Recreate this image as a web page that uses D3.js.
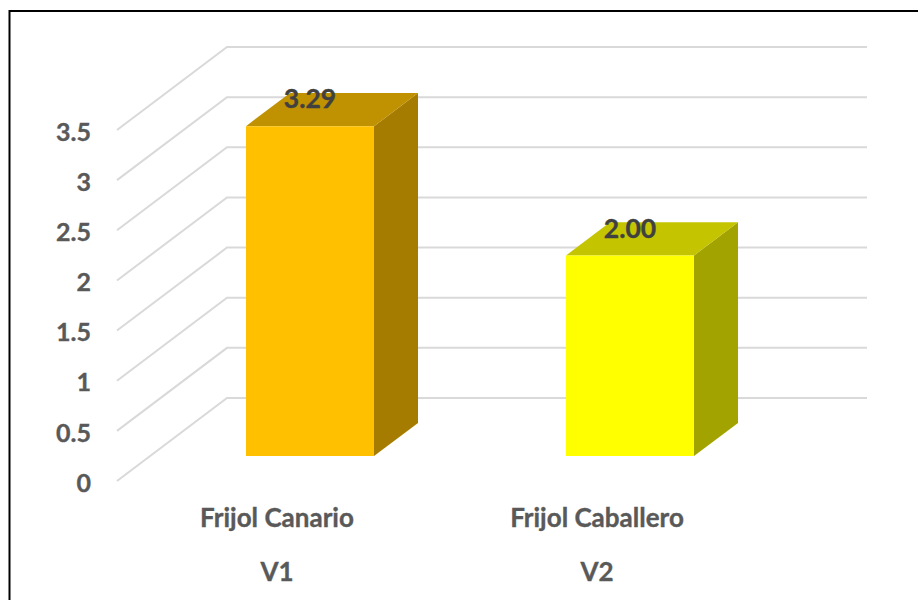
<!DOCTYPE html>
<html>
<head>
<meta charset="utf-8">
<script src="https://cdn.jsdelivr.net/npm/d3@7"></script>
<style>
  html, body { margin: 0; padding: 0; background: #fff; }
  svg { display: block; }
  text { font-family: Lato, "Open Sans", sans-serif; font-weight: 700; stroke-width: 0.35px; }
</style>
</head>
<body>
<script>
// Bean yield by variety, drawn as a pseudo-3D column chart
const categories = ["Frijol Canario", "Frijol Caballero"];
const groups = ["V1", "V2"];
const values = [3.29, 2.00];
const valueLabels = ["3.29", "2.00"];
const yTicks = [0, 0.5, 1, 1.5, 2, 2.5, 3, 3.5];
const yTickLabels = ["0", "0.5", "1", "1.5", "2", "2.5", "3", "3.5"];
const frontColors = ["#ffc000", "#ffff00"];
const topColors = ["#c09100", "#c4c400"];
const sideColors = ["#a67c00", "#a3a300"];

const width = 918, height = 600;
const svg = d3.select("body").append("svg").attr("width", width).attr("height", height);

// Chart frame: only the left and top edges fall inside the page
svg.append("path")
  .attr("d", "M9.5,600V11H918")
  .attr("fill", "none").attr("stroke", "#000").attr("stroke-width", 2);

// Front plane scales
const y = d3.scaleLinear().domain([0, 3.5]).range([481, 130]);
const x = d3.scaleBand().domain(categories).range([117, 757])
  .paddingInner(0.6).paddingOuter(0.3);

// Oblique depth: t = 0 at the front plane, t = 1 at the back wall
const depthX = 110, depthY = -83;
const project = (px, py, t) => [px + depthX * t, py + depthY * t];
const barFront = 0.3, barBack = 0.7;
const line = d3.line();

// Gridlines: a diagonal on the side wall, then a horizontal on the back wall
svg.append("g").selectAll("path").data(yTicks).join("path")
  .attr("d", d => line([
    project(x.range()[0], y(d), 0),
    project(x.range()[0], y(d), 1),
    project(x.range()[1], y(d), 1)
  ]))
  .attr("fill", "none").attr("stroke", "#d9d9d9").attr("stroke-width", 2);

// Value axis labels
svg.append("g").selectAll("text").data(yTicks).join("text")
  .attr("x", 91).attr("y", d => y(d) + 2)
  .attr("text-anchor", "end").attr("dy", "0.35em")
  .attr("font-size", 25).attr("fill", "#595959").attr("stroke", "#595959")
  .text((d, i) => yTickLabels[i]);

// Columns: side and top faces behind the front face
const bars = svg.append("g").selectAll("g").data(categories).join("g");

const face = (cat, i, build) => {
  const x0 = x(cat), x1 = x0 + x.bandwidth();
  const top = y(values[i]), base = y(0);
  return line(build(x0, x1, top, base)) + "Z";
};

bars.append("path")
  .attr("fill", (d, i) => sideColors[i])
  .attr("d", (d, i) => face(d, i, (x0, x1, top, base) => [
    project(x1, top, barFront), project(x1, top, barBack),
    project(x1, base, barBack), project(x1, base, barFront)
  ]));

bars.append("path")
  .attr("fill", (d, i) => topColors[i])
  .attr("d", (d, i) => face(d, i, (x0, x1, top) => [
    project(x0, top, barFront), project(x0, top, barBack),
    project(x1, top, barBack), project(x1, top, barFront)
  ]));

bars.append("path")
  .attr("fill", (d, i) => frontColors[i])
  .attr("d", (d, i) => face(d, i, (x0, x1, top, base) => [
    project(x0, top, barFront), project(x1, top, barFront),
    project(x1, base, barFront), project(x0, base, barFront)
  ]));

// Value labels sit on the top face of each column
bars.append("text")
  .attr("x", d => project(x(d) + x.bandwidth() / 2, 0, barFront)[0])
  .attr("y", (d, i) => project(0, y(values[i]), barFront)[1] - 27)
  .attr("text-anchor", "middle").attr("dy", "0.35em")
  .attr("font-size", 26.5).attr("fill", "#404040").attr("stroke", "#404040")
  .text((d, i) => valueLabels[i]);

// Two-level category axis
const centre = d => x(d) + x.bandwidth() / 2;
bars.append("text")
  .attr("x", centre).attr("y", 518)
  .attr("text-anchor", "middle").attr("dy", "0.35em")
  .attr("font-size", 26).attr("fill", "#595959").attr("stroke", "#595959")
  .text(d => d);
bars.append("text")
  .attr("x", centre).attr("y", 572)
  .attr("text-anchor", "middle").attr("dy", "0.35em")
  .attr("font-size", 26).attr("fill", "#595959").attr("stroke", "#595959")
  .text((d, i) => groups[i]);
</script>
</body>
</html>
